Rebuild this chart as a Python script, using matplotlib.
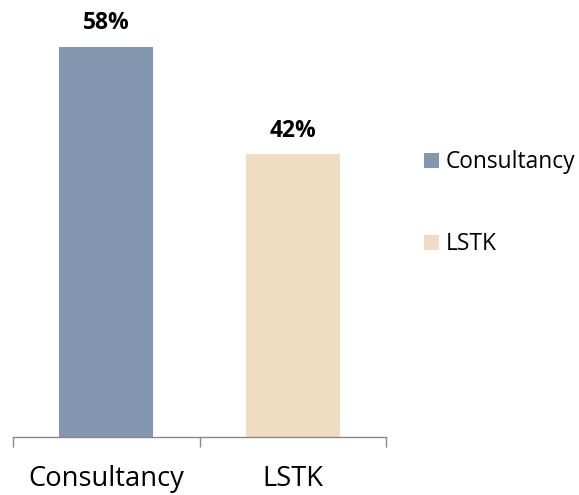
import matplotlib
matplotlib.use("Agg")
import matplotlib.pyplot as plt
from matplotlib.patches import Patch

categories = ["Consultancy", "LSTK"]
values = [58, 42]
labels = ["58%", "42%"]
colors = ["#8497B0", "#F0DCC3"]

plt.rcParams['font.family'] = ['Open Sans', 'DejaVu Sans']

fig = plt.figure(figsize=(5.79, 4.95), dpi=100)
ax = fig.add_axes([13/579, 1-437/495, (386-13)/579, (437-10)/495])
x = list(range(len(categories)))
bars = ax.bar(x, values, width=0.504, color=colors)
ax.set_xlim(-0.5, 1.5)
ax.set_ylim(0, 427/6.73)
for xi, v, l in zip(x, values, labels):
    ax.annotate(l, (xi, v), xytext=(0, 8.5), textcoords='offset points',
                ha='center', va='bottom', fontsize=16.5, fontweight='bold')
for s in ['top', 'right', 'left']:
    ax.spines[s].set_visible(False)
ax.spines['bottom'].set_color('#888888')
ax.spines['bottom'].set_linewidth(1)
ax.set_yticks([])
ax.set_xticks([-0.5, 0.5, 1.5], minor=False)
ax.set_xticklabels([])
ax.tick_params(axis='x', length=7.5, color='#888888', width=1, direction='out')
ax.set_xticks(x, minor=True)
ax.set_xticklabels(categories, minor=True, fontsize=19.7)
ax.tick_params(axis='x', which='minor', length=0, pad=20)

handles = [Patch(facecolor=c, label=n) for c, n in zip(colors, categories)]
fig.legend(handles=handles, loc='upper left', bbox_to_anchor=(415/579, 1-141/495),
           frameon=False, fontsize=16.4, handlelength=0.65, handleheight=0.65,
           handletextpad=0.3, labelspacing=2.55, borderaxespad=0)

fig.savefig("out.png", dpi=100)
